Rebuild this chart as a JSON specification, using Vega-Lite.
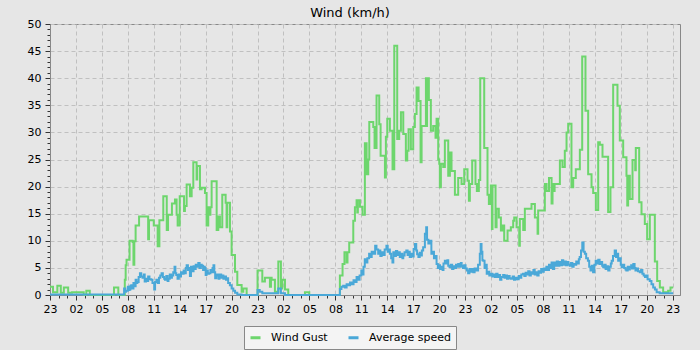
{
 "$schema": "https://vega.github.io/schema/vega-lite/v6.json",
 "width": 630, "height": 271,
 "autosize": {"type": "none"},
 "padding": {"left": 50, "top": 24, "right": 20, "bottom": 55},
 "background": "#e6e6e6",
 "title": {"text": "Wind (km/h)", "fontSize": 13, "font": "DejaVu Sans", "fontWeight": "normal", "color": "#000", "offset": 0, "dy": 2, "dx": -15},
 "datasets": {
  "gust": [
   {"t":0,"v":1.5},{"t":0.35,"v":0.5},{"t":0.85,"v":1.7},{"t":1.25,"v":0.4},{"t":1.6,"v":1.4},{"t":2.1,"v":0.4},{"t":2.55,"v":0.5},{"t":3.9,"v":0},{"t":4.2,"v":0.8},{"t":4.6,"v":0},{"t":7.4,"v":1.4},{"t":7.9,"v":0},
   {"t":8.65,"v":2.8},{"t":8.75,"v":5.5},{"t":8.85,"v":6.5},{"t":9.2,"v":10},{"t":9.55,"v":9.8},{"t":9.65,"v":5.6},{"t":9.75,"v":9.9},{"t":9.9,"v":12.8},{"t":10.3,"v":14.5},{"t":11.35,"v":10.3},{"t":11.45,"v":13.8},{"t":12.0,"v":12.8},{"t":12.45,"v":9},{"t":12.65,"v":13.8},{"t":13.1,"v":18.2},{"t":13.5,"v":12},{"t":13.65,"v":14.8},{"t":14.1,"v":16.9},{"t":14.45,"v":17.6},{"t":14.64,"v":14.8},{"t":14.76,"v":12.8},
   {"t":15.0,"v":18.2},{"t":15.5,"v":15.5},{"t":15.6,"v":16.4},{"t":15.8,"v":20.4},{"t":16.18,"v":18.2},{"t":16.38,"v":19.8},{"t":16.57,"v":24.5},{"t":16.95,"v":21.3},{"t":17.02,"v":23.8},{"t":17.34,"v":19.5},{"t":17.53,"v":19.8},{"t":17.92,"v":18.8},{"t":18.11,"v":12.8},{"t":18.3,"v":16.2},{"t":18.45,"v":14.8},{"t":18.55,"v":16.2},{"t":18.69,"v":21},{"t":19.27,"v":12},{"t":19.46,"v":14.5},{"t":19.65,"v":12.5},{"t":19.92,"v":18.5},{"t":20.31,"v":17},{"t":20.42,"v":12.5},{"t":20.5,"v":17},{"t":20.81,"v":11.7},{"t":21.0,"v":7.4},{"t":21.39,"v":4.3},{"t":21.66,"v":1.85},{"t":22.16,"v":0.6},{"t":22.35,"v":1.2},{"t":22.74,"v":0},
   {"t":24.0,"v":4.5},{"t":24.55,"v":2.5},{"t":24.85,"v":3.2},{"t":25.43,"v":1.5},{"t":25.55,"v":3.2},{"t":25.63,"v":2.8},{"t":26.01,"v":0.6},{"t":26.4,"v":6.2},{"t":26.7,"v":1.2},{"t":26.86,"v":2.8},{"t":27.17,"v":1.0},{"t":27.55,"v":0},{"t":29.48,"v":0.5},{"t":29.98,"v":0},
   {"t":33.52,"v":3.6},{"t":33.83,"v":5.7},{"t":34.05,"v":7.9},{"t":34.3,"v":6.0},{"t":34.4,"v":7.9},{"t":34.6,"v":9.7},{"t":35.07,"v":13.7},{"t":35.26,"v":16.2},{"t":35.45,"v":17.5},{"t":35.53,"v":15.2},{"t":35.6,"v":17.5},{"t":35.84,"v":16.3},{"t":36.14,"v":14.8},{"t":36.41,"v":28},{"t":36.61,"v":22.3},{"t":36.8,"v":25},{"t":36.92,"v":31.9},{"t":37.38,"v":31},{"t":37.53,"v":27.1},{"t":37.76,"v":36.8},{"t":38.07,"v":31.5},{"t":38.23,"v":25.7},{"t":38.73,"v":21.7},{"t":38.84,"v":29.2},{"t":39.0,"v":32.5},{"t":39.3,"v":30.3},{"t":39.61,"v":23.2},{"t":39.81,"v":46},{"t":40.15,"v":28.8},{"t":40.38,"v":30.3},{"t":40.58,"v":33.7},{"t":40.85,"v":29.7},{"t":41.15,"v":24.8},{"t":41.31,"v":26.6},{"t":41.46,"v":30.6},{"t":41.73,"v":26.9},{"t":42.0,"v":31},{"t":42.19,"v":33.4},{"t":42.39,"v":38.3},{"t":42.62,"v":35.8},{"t":42.85,"v":24.5},{"t":42.97,"v":31.2},{"t":43.47,"v":40},{"t":43.54,"v":31.2},{"t":43.6,"v":40},{"t":43.81,"v":36},{"t":44.04,"v":30.3},{"t":44.31,"v":31.2},{"t":44.58,"v":29},{"t":44.7,"v":32.5},{"t":44.89,"v":25},{"t":45.01,"v":24.2},{"t":45.08,"v":19.9},{"t":45.2,"v":24.2},{"t":45.47,"v":23.6},{"t":45.66,"v":28.5},{"t":46.05,"v":22},{"t":46.24,"v":26.3},{"t":46.43,"v":22.9},{"t":46.82,"v":18.5},{"t":47.2,"v":21.6},{"t":47.59,"v":20.5},{"t":47.9,"v":23.2},{"t":48.28,"v":21.1},{"t":48.44,"v":17.4},{"t":48.55,"v":20.5},{"t":48.82,"v":24.8},{"t":49.2,"v":20.5},{"t":49.36,"v":19.2},{"t":49.59,"v":21.2},{"t":49.75,"v":40},{"t":50.21,"v":27.1},{"t":50.59,"v":18.5},{"t":50.75,"v":16.8},{"t":50.98,"v":20.2},{"t":51.1,"v":12.2},{"t":51.17,"v":20.2},{"t":51.52,"v":12.5},{"t":51.64,"v":15.9},{"t":51.9,"v":14.3},{"t":52.14,"v":11.9},{"t":52.29,"v":12.8},{"t":52.52,"v":10},{"t":52.91,"v":11.9},{"t":53.29,"v":12.5},{"t":53.56,"v":13.7},{"t":53.68,"v":14.3},{"t":53.95,"v":12.5},{"t":54.26,"v":9.1},{"t":54.33,"v":14},{"t":54.72,"v":12},{"t":54.91,"v":15.9},{"t":55.68,"v":16.8},{"t":56.07,"v":14.3},{"t":56.38,"v":11.3},{"t":56.45,"v":15.6},{"t":57.22,"v":20.5},{"t":57.42,"v":19.2},{"t":57.7,"v":21.6},{"t":58.0,"v":16.9},{"t":58.11,"v":20.5},{"t":58.26,"v":19.2},{"t":58.35,"v":20.5},{"t":58.96,"v":24.8},{"t":59.26,"v":23.6},{"t":59.53,"v":26.6},{"t":59.73,"v":30},{"t":59.92,"v":31.6},{"t":60.3,"v":19.9},{"t":60.5,"v":21.6},{"t":60.8,"v":23.2},{"t":61.27,"v":26.8},{"t":61.54,"v":44},{"t":61.92,"v":34},{"t":62.23,"v":22.3},{"t":62.62,"v":19.9},{"t":62.81,"v":18.8},{"t":63.12,"v":15.7},{"t":63.39,"v":28.2},{"t":63.58,"v":27.7},{"t":63.89,"v":25.5},{"t":64.54,"v":15.3},{"t":64.81,"v":19.9},{"t":65.12,"v":38.8},{"t":65.62,"v":34.9},{"t":65.89,"v":28.5},{"t":66.28,"v":25.4},{"t":66.66,"v":22},{"t":66.75,"v":16.5},{"t":66.85,"v":22},{"t":67.05,"v":17.7},{"t":67.36,"v":24.9},{"t":67.67,"v":23},{"t":67.74,"v":27.1},{"t":68.13,"v":17.1},{"t":68.4,"v":14.9},{"t":68.78,"v":13.1},{"t":69.05,"v":10.3},{"t":69.36,"v":14.8},{"t":69.94,"v":6.2},{"t":70.21,"v":2.6},{"t":70.52,"v":1.4},{"t":70.9,"v":0.5},{"t":71.48,"v":0.8},{"t":71.75,"v":1.4},{"t":72.06,"v":1.4}
  ],
  "avg": [
   {"t":0,"v":0.1},{"t":8.57,"v":1.2},{"t":8.7,"v":0.6},{"t":8.8,"v":0.8},{"t":9.0,"v":1.5},{"t":9.1,"v":0.9},{"t":9.2,"v":1.0},{"t":9.3,"v":1.7},{"t":9.4,"v":1.8},{"t":9.5,"v":1.2},{"t":9.65,"v":2.2},{"t":9.8,"v":1.6},{"t":9.9,"v":2.8},{"t":10.0,"v":2.2},{"t":10.1,"v":2.4},{"t":10.25,"v":3.3},{"t":10.4,"v":4.0},{"t":10.55,"v":3.4},{"t":10.7,"v":3.2},{"t":10.85,"v":3.8},{"t":10.95,"v":2.5},{"t":11.1,"v":3.0},{"t":11.25,"v":2.6},{"t":11.35,"v":3.4},{"t":11.5,"v":2.9},{"t":11.7,"v":2.8},{"t":11.85,"v":2.2},{"t":12.05,"v":1.0},{"t":12.15,"v":2.4},{"t":12.3,"v":2.8},{"t":12.45,"v":2.2},{"t":12.6,"v":3.2},{"t":12.75,"v":3.6},{"t":12.9,"v":4.0},{"t":13.05,"v":3.3},{"t":13.2,"v":3.0},{"t":13.3,"v":2.8},{"t":13.45,"v":3.5},{"t":13.6,"v":2.6},{"t":13.7,"v":3.0},{"t":13.85,"v":3.8},{"t":14.0,"v":3.2},{"t":14.1,"v":3.6},{"t":14.25,"v":4.2},{"t":14.4,"v":5.2},{"t":14.5,"v":4.0},{"t":14.6,"v":3.7},{"t":14.75,"v":3.0},{"t":14.9,"v":3.8},{"t":15.0,"v":3.4},{"t":15.15,"v":4.2},{"t":15.3,"v":3.9},{"t":15.45,"v":4.5},{"t":15.6,"v":4.0},{"t":15.7,"v":5.0},{"t":15.8,"v":5.5},{"t":15.95,"v":4.6},{"t":16.05,"v":5.0},{"t":16.18,"v":3.5},{"t":16.3,"v":5.2},{"t":16.45,"v":4.4},{"t":16.6,"v":5.3},{"t":16.7,"v":4.8},{"t":16.85,"v":5.6},{"t":17.0,"v":5.2},{"t":17.15,"v":5.9},{"t":17.3,"v":5.0},{"t":17.45,"v":5.6},{"t":17.55,"v":5.4},{"t":17.7,"v":4.6},{"t":17.8,"v":5.2},{"t":17.9,"v":5.0},{"t":18.0,"v":3.7},{"t":18.1,"v":4.5},{"t":18.25,"v":3.9},{"t":18.4,"v":4.0},{"t":18.55,"v":4.6},{"t":18.7,"v":4.2},{"t":18.8,"v":5.0},{"t":18.9,"v":5.5},{"t":19.0,"v":4.2},{"t":19.1,"v":3.1},{"t":19.25,"v":3.8},{"t":19.4,"v":3.6},{"t":19.5,"v":3.0},{"t":19.6,"v":3.8},{"t":19.8,"v":3.2},{"t":19.95,"v":3.6},{"t":20.05,"v":3.0},{"t":20.2,"v":3.4},{"t":20.35,"v":2.8},{"t":20.5,"v":3.1},{"t":20.6,"v":2.2},{"t":20.8,"v":1.8},{"t":21.0,"v":1.2},{"t":21.2,"v":0.8},{"t":21.4,"v":0.4},{"t":21.66,"v":0.1},{"t":22.16,"v":0},
   {"t":24.0,"v":0.9},{"t":24.25,"v":0.6},{"t":24.55,"v":0.3},{"t":26.4,"v":1.2},{"t":26.7,"v":0.3},{"t":27.17,"v":0},
   {"t":33.52,"v":1.1},{"t":33.7,"v":1.5},{"t":33.9,"v":1.7},{"t":34.1,"v":1.4},{"t":34.3,"v":2.0},{"t":34.5,"v":1.8},{"t":34.7,"v":2.3},{"t":34.9,"v":2.0},{"t":35.1,"v":2.7},{"t":35.3,"v":2.4},{"t":35.45,"v":3.3},{"t":35.6,"v":2.8},{"t":35.8,"v":3.6},{"t":36.0,"v":4.5},{"t":36.15,"v":3.8},{"t":36.25,"v":5.2},{"t":36.4,"v":6.6},{"t":36.55,"v":6.0},{"t":36.7,"v":6.8},{"t":36.9,"v":7.6},{"t":37.05,"v":7.0},{"t":37.2,"v":8.0},{"t":37.4,"v":7.6},{"t":37.6,"v":9.1},{"t":37.75,"v":8.4},{"t":37.95,"v":7.6},{"t":38.1,"v":8.2},{"t":38.2,"v":7.2},{"t":38.35,"v":7.9},{"t":38.5,"v":7.4},{"t":38.7,"v":8.4},{"t":38.9,"v":9.1},{"t":39.05,"v":8.0},{"t":39.2,"v":8.4},{"t":39.3,"v":7.6},{"t":39.45,"v":6.8},{"t":39.6,"v":6.0},{"t":39.7,"v":7.9},{"t":39.85,"v":7.2},{"t":40.0,"v":8.1},{"t":40.15,"v":7.4},{"t":40.3,"v":7.9},{"t":40.45,"v":7.0},{"t":40.6,"v":7.6},{"t":40.75,"v":6.8},{"t":40.85,"v":7.3},{"t":41.0,"v":7.9},{"t":41.2,"v":8.2},{"t":41.35,"v":7.4},{"t":41.5,"v":8.0},{"t":41.6,"v":7.0},{"t":41.75,"v":7.6},{"t":41.9,"v":7.1},{"t":42.05,"v":8.5},{"t":42.2,"v":9.4},{"t":42.35,"v":8.2},{"t":42.45,"v":7.5},{"t":42.6,"v":7.0},{"t":42.75,"v":7.8},{"t":42.9,"v":7.3},{"t":43.0,"v":8.2},{"t":43.15,"v":8.8},{"t":43.35,"v":11.3},{"t":43.5,"v":12.5},{"t":43.6,"v":10.2},{"t":43.75,"v":9.5},{"t":43.9,"v":10.0},{"t":44.1,"v":7.6},{"t":44.25,"v":8.0},{"t":44.4,"v":6.8},{"t":44.55,"v":7.2},{"t":44.7,"v":5.7},{"t":44.85,"v":5.0},{"t":45.0,"v":5.5},{"t":45.1,"v":4.8},{"t":45.25,"v":5.2},{"t":45.4,"v":4.6},{"t":45.5,"v":5.8},{"t":45.66,"v":6.3},{"t":45.8,"v":5.8},{"t":45.95,"v":6.4},{"t":46.05,"v":5.4},{"t":46.2,"v":5.1},{"t":46.35,"v":5.6},{"t":46.5,"v":4.8},{"t":46.65,"v":5.3},{"t":46.8,"v":5.0},{"t":46.95,"v":5.6},{"t":47.1,"v":5.2},{"t":47.2,"v":5.7},{"t":47.35,"v":5.2},{"t":47.5,"v":5.9},{"t":47.6,"v":5.4},{"t":47.75,"v":5.0},{"t":47.9,"v":5.5},{"t":48.05,"v":4.9},{"t":48.2,"v":4.5},{"t":48.35,"v":4.0},{"t":48.5,"v":4.8},{"t":48.65,"v":4.3},{"t":48.8,"v":4.8},{"t":48.95,"v":4.2},{"t":49.1,"v":4.9},{"t":49.32,"v":4.5},{"t":49.5,"v":5.6},{"t":49.7,"v":7.6},{"t":49.8,"v":9.4},{"t":49.9,"v":8.0},{"t":50.0,"v":6.4},{"t":50.1,"v":6.3},{"t":50.25,"v":5.0},{"t":50.35,"v":5.6},{"t":50.5,"v":3.9},{"t":50.65,"v":4.3},{"t":50.8,"v":3.6},{"t":51.0,"v":3.9},{"t":51.15,"v":3.4},{"t":51.3,"v":3.8},{"t":51.45,"v":3.3},{"t":51.6,"v":3.9},{"t":51.75,"v":3.3},{"t":51.9,"v":3.7},{"t":52.05,"v":2.8},{"t":52.2,"v":3.3},{"t":52.4,"v":3.7},{"t":52.55,"v":3.2},{"t":52.7,"v":3.6},{"t":52.85,"v":3.0},{"t":53.0,"v":3.5},{"t":53.15,"v":3.1},{"t":53.3,"v":3.0},{"t":53.5,"v":3.4},{"t":53.65,"v":2.8},{"t":53.8,"v":3.2},{"t":54.0,"v":2.9},{"t":54.2,"v":3.5},{"t":54.35,"v":3.2},{"t":54.5,"v":3.8},{"t":54.7,"v":3.9},{"t":54.85,"v":3.5},{"t":55.0,"v":4.1},{"t":55.15,"v":3.8},{"t":55.3,"v":4.4},{"t":55.45,"v":3.6},{"t":55.6,"v":4.2},{"t":55.75,"v":3.9},{"t":55.9,"v":4.6},{"t":56.05,"v":3.8},{"t":56.2,"v":4.2},{"t":56.35,"v":3.6},{"t":56.5,"v":4.4},{"t":56.65,"v":4.1},{"t":56.8,"v":4.8},{"t":56.95,"v":4.3},{"t":57.1,"v":4.9},{"t":57.25,"v":4.6},{"t":57.4,"v":5.2},{"t":57.55,"v":4.6},{"t":57.7,"v":5.6},{"t":57.85,"v":5.0},{"t":58.0,"v":6.0},{"t":58.15,"v":4.8},{"t":58.3,"v":6.0},{"t":58.45,"v":5.4},{"t":58.6,"v":6.2},{"t":58.75,"v":5.4},{"t":58.9,"v":6.1},{"t":59.05,"v":5.5},{"t":59.2,"v":6.4},{"t":59.35,"v":5.6},{"t":59.5,"v":6.2},{"t":59.65,"v":5.5},{"t":59.8,"v":6.1},{"t":59.95,"v":5.6},{"t":60.1,"v":5.4},{"t":60.25,"v":5.9},{"t":60.4,"v":5.2},{"t":60.55,"v":5.7},{"t":60.7,"v":5.6},{"t":60.85,"v":6.2},{"t":61.0,"v":5.8},{"t":61.15,"v":6.6},{"t":61.25,"v":7.0},{"t":61.4,"v":8.2},{"t":61.55,"v":9.7},{"t":61.7,"v":8.0},{"t":61.85,"v":7.6},{"t":62.0,"v":6.8},{"t":62.2,"v":6.3},{"t":62.35,"v":5.2},{"t":62.5,"v":4.5},{"t":62.65,"v":5.4},{"t":62.8,"v":4.2},{"t":62.95,"v":5.6},{"t":63.1,"v":6.3},{"t":63.25,"v":5.8},{"t":63.4,"v":6.5},{"t":63.55,"v":5.7},{"t":63.7,"v":6.1},{"t":63.85,"v":5.4},{"t":63.97,"v":5.1},{"t":64.1,"v":5.6},{"t":64.25,"v":4.8},{"t":64.4,"v":5.3},{"t":64.55,"v":4.5},{"t":64.7,"v":5.2},{"t":64.85,"v":5.8},{"t":64.95,"v":6.3},{"t":65.1,"v":7.2},{"t":65.3,"v":8.2},{"t":65.45,"v":7.0},{"t":65.55,"v":7.6},{"t":65.7,"v":6.3},{"t":65.85,"v":6.8},{"t":66.0,"v":5.6},{"t":66.1,"v":5.1},{"t":66.25,"v":5.6},{"t":66.4,"v":5.0},{"t":66.55,"v":4.7},{"t":66.65,"v":4.5},{"t":66.8,"v":5.2},{"t":66.95,"v":4.7},{"t":67.05,"v":5.1},{"t":67.2,"v":5.5},{"t":67.3,"v":4.9},{"t":67.45,"v":5.7},{"t":67.6,"v":5.0},{"t":67.7,"v":4.5},{"t":67.85,"v":4.9},{"t":68.0,"v":4.4},{"t":68.2,"v":4.2},{"t":68.35,"v":4.6},{"t":68.5,"v":3.9},{"t":68.65,"v":3.6},{"t":68.8,"v":3.3},{"t":68.95,"v":3.6},{"t":69.1,"v":2.9},{"t":69.35,"v":2.6},{"t":69.55,"v":2.0},{"t":69.75,"v":1.4},{"t":69.95,"v":1.0},{"t":70.15,"v":0.5},{"t":70.5,"v":0.3},{"t":72.06,"v":0.3}
  ]
 },
 "encoding": {
  "x": {"field": "t", "type": "quantitative",
   "scale": {"domain": [0, 72.85], "nice": false, "zero": false},
   "axis": {"title": null, "values": [0,1,2,3,4,5,6,7,8,9,10,11,12,13,14,15,16,17,18,19,20,21,22,23,24,25,26,27,28,29,30,31,32,33,34,35,36,37,38,39,40,41,42,43,44,45,46,47,48,49,50,51,52,53,54,55,56,57,58,59,60,61,62,63,64,65,66,67,68,69,70,71,72],
    "labelExpr": "datum.value % 3 == 0 ? (((23 + datum.value) % 24) < 10 ? '0' : '') + ((23 + datum.value) % 24) : ''",
    "labelFlush": false, "labelOverlap": false, "labelPadding": 3,
    "tickSize": {"condition": {"test": "datum.value % 3 == 0", "value": 5}, "value": 3},
    "gridOpacity": {"condition": {"test": "datum.value % 3 == 0", "value": 1}, "value": 0}}},
  "y": {"field": "v", "type": "quantitative",
   "scale": {"domain": [0, 50], "nice": false},
   "axis": {"title": null, "values": [0,1,2,3,4,5,6,7,8,9,10,11,12,13,14,15,16,17,18,19,20,21,22,23,24,25,26,27,28,29,30,31,32,33,34,35,36,37,38,39,40,41,42,43,44,45,46,47,48,49,50],
    "labelExpr": "datum.value % 5 == 0 ? datum.label : ''",
    "labelFlush": false, "labelOverlap": false, "labelPadding": 4,
    "tickSize": {"condition": {"test": "datum.value % 5 == 0", "value": 5}, "value": 3},
    "gridOpacity": {"condition": {"test": "datum.value % 5 == 0", "value": 1}, "value": 0}}}
 },
 "layer": [
  {"data": {"name": "gust"},
   "mark": {"type": "line", "interpolate": "step-after", "strokeWidth": 2},
   "encoding": {"color": {"datum": "Wind Gust", "type": "nominal",
     "scale": {"domain": ["Wind Gust", "Average speed"], "range": ["#6dd66d", "#4aa8d8"]},
     "legend": {"orient": "none", "legendX": 194, "legendY": 302, "direction": "horizontal", "title": null,
      "symbolType": "stroke", "symbolSize": 100, "symbolStrokeWidth": 3, "labelFontSize": 11, "labelFont": "DejaVu Sans",
      "labelColor": "#000", "labelOffset": 9, "columnPadding": 14, "padding": 5,
      "fillColor": "#f4f4f4", "strokeColor": "#888"}}}},
  {"data": {"name": "avg"},
   "mark": {"type": "line", "interpolate": "step-after", "strokeWidth": 2},
   "encoding": {"color": {"datum": "Average speed", "type": "nominal"}}}
 ],
 "config": {
  "view": {"stroke": "#888", "strokeWidth": 1, "fill": "#e6e6e6"},
  "axis": {"domainColor": "#888", "tickColor": "#333", "labelFont": "DejaVu Sans", "labelFontSize": 11, "labelColor": "#000",
   "gridColor": "#c0c0c0", "gridDash": [4, 3], "grid": true}
 }
}
